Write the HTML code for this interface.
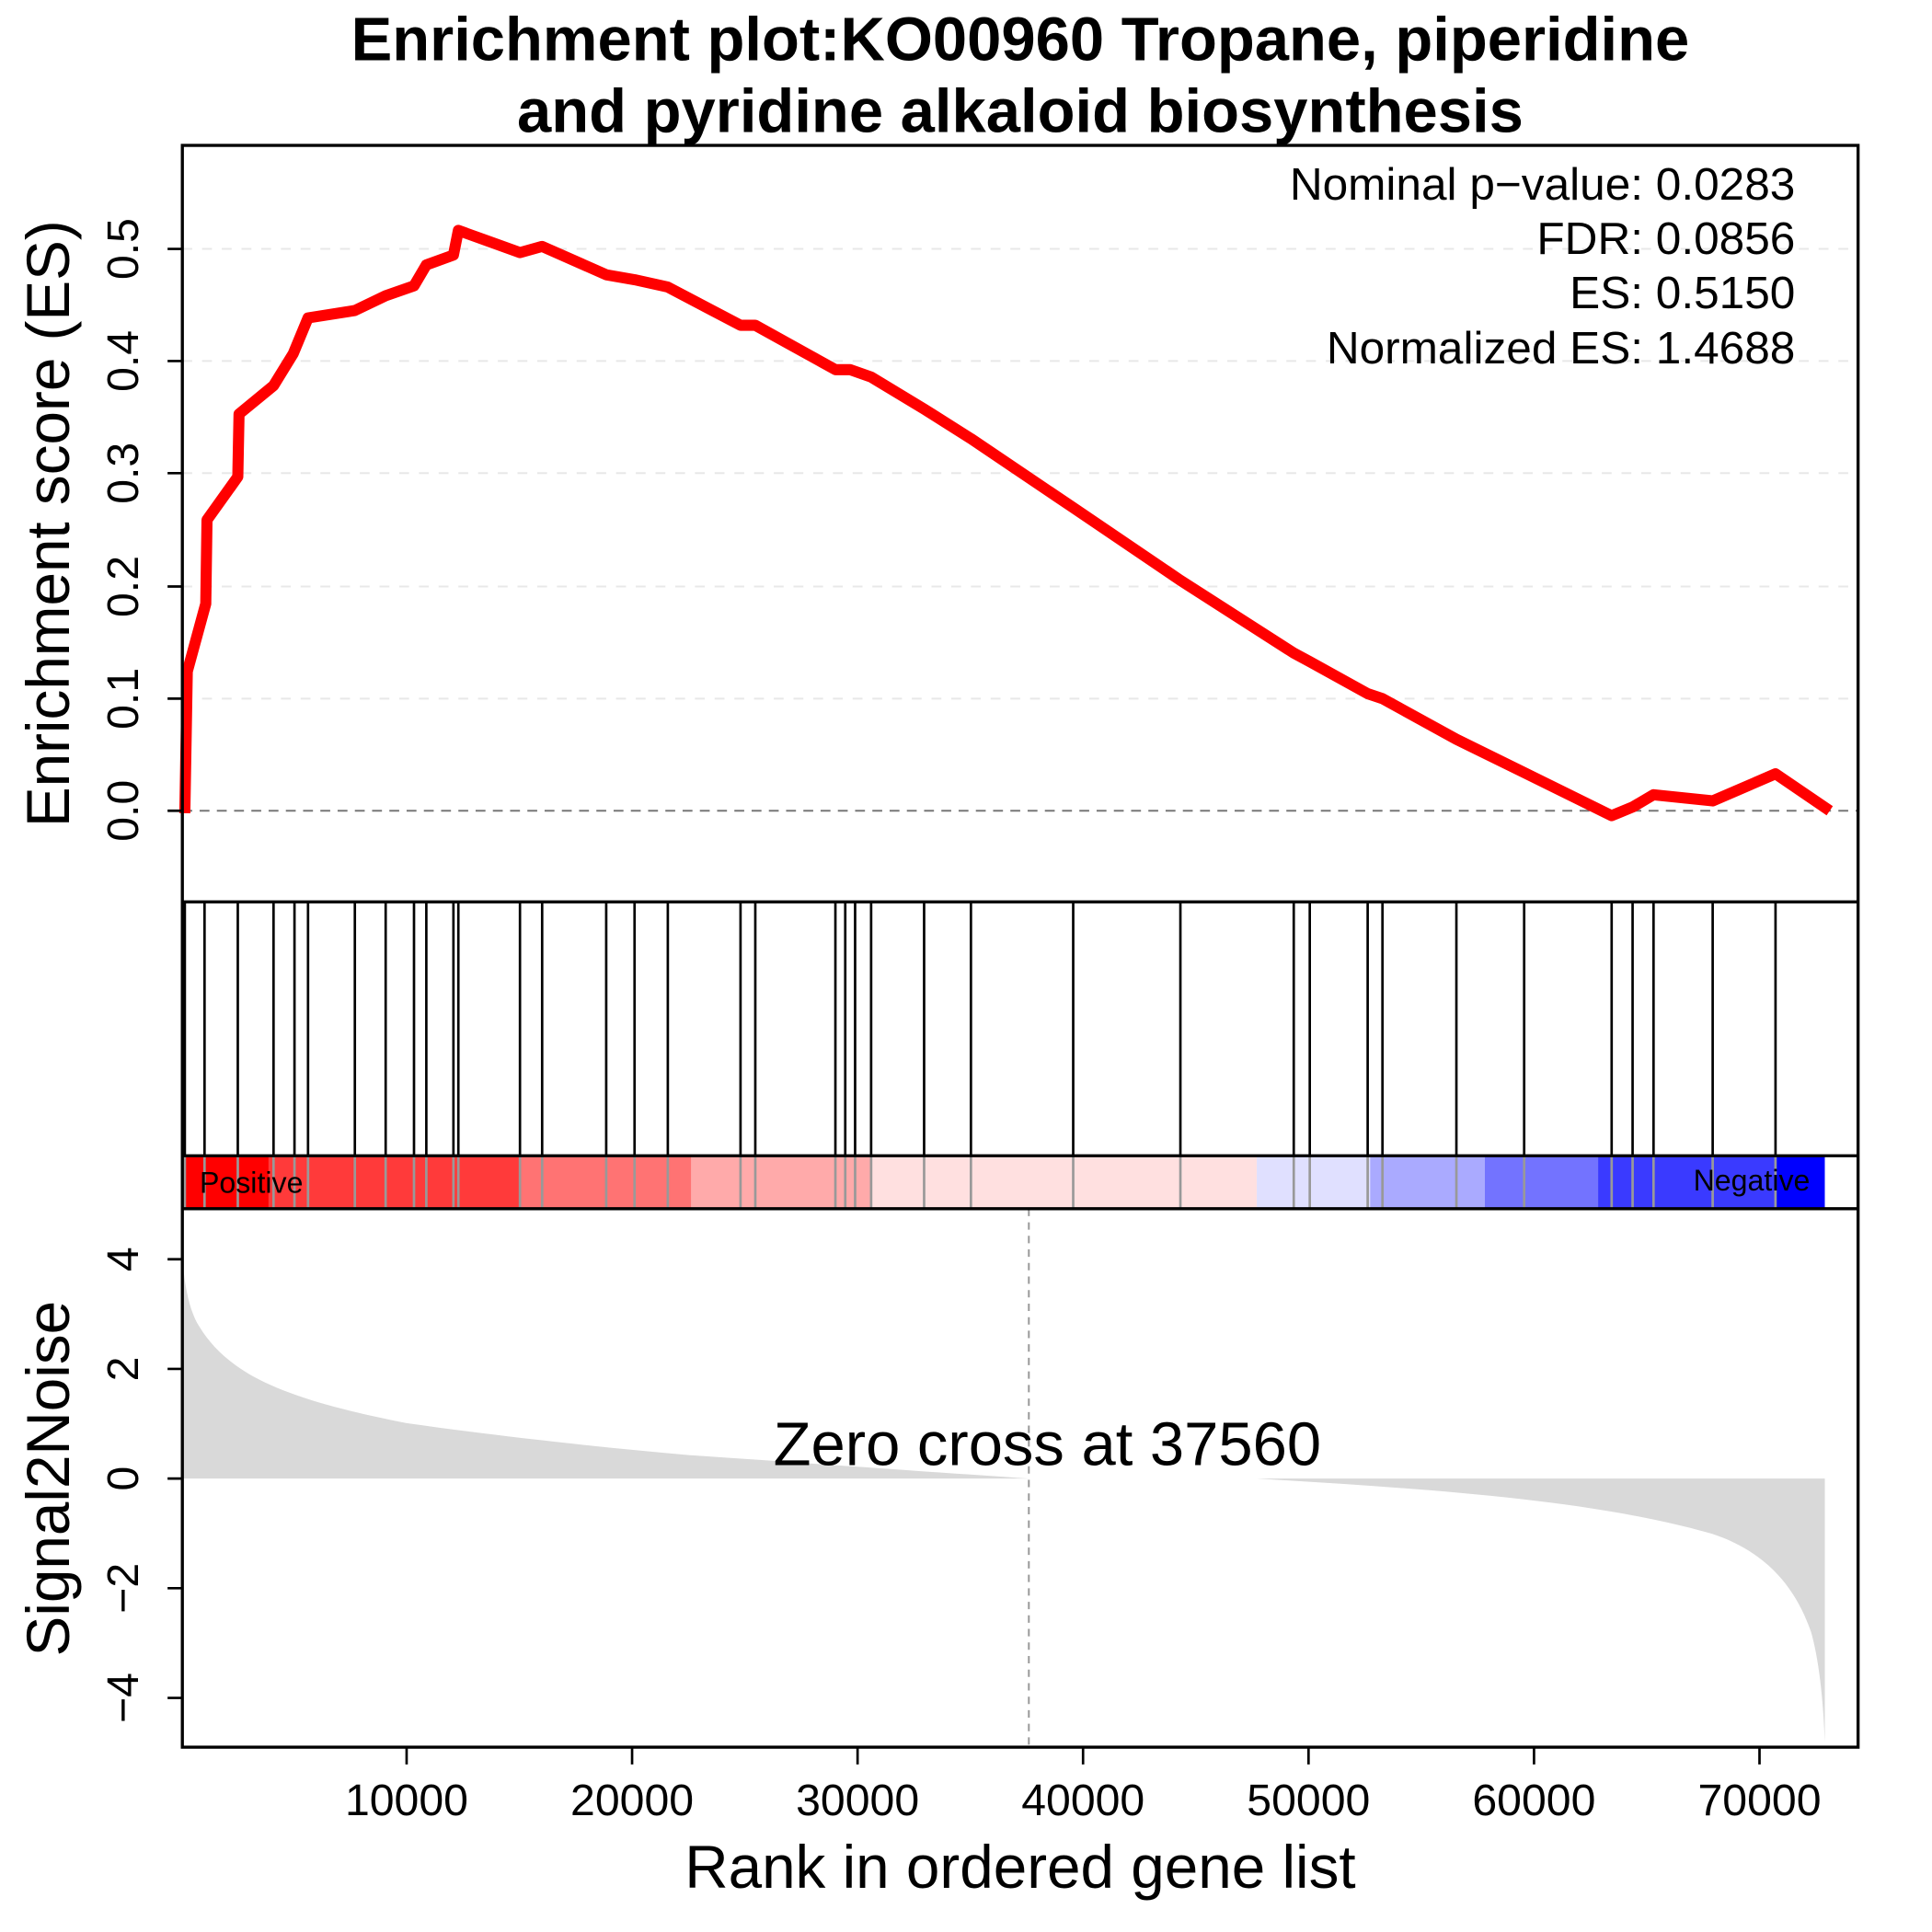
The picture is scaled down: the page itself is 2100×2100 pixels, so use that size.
<!DOCTYPE html>
<html><head><meta charset="utf-8"><style>html,body{margin:0;padding:0;background:#fff}svg{display:block}</style></head>
<body>
<svg xmlns="http://www.w3.org/2000/svg" width="2100" height="2100" viewBox="0 0 1568 1568" font-family="Liberation Sans, sans-serif">
<rect width="1568" height="1568" fill="#fff"/>
<text x="828" y="49" text-anchor="middle" font-size="50" font-weight="bold">Enrichment plot:KO00960 Tropane, piperidine</text>
<text x="828" y="107" text-anchor="middle" font-size="50" font-weight="bold">and pyridine alkaloid biosynthesis</text>
<g stroke="#e8e8e8" stroke-width="1.5" stroke-dasharray="8,8">
<line x1="148" x2="1508" y1="202" y2="202"/><line x1="148" x2="1508" y1="293" y2="293"/><line x1="148" x2="1508" y1="384" y2="384"/><line x1="148" x2="1508" y1="476" y2="476"/><line x1="148" x2="1508" y1="567" y2="567"/>
</g>
<line x1="148" x2="1508" y1="658" y2="658" stroke="#777" stroke-width="1.5" stroke-dasharray="8,6"/>
<polyline fill="none" stroke="#ff0000" stroke-width="9" stroke-linejoin="round" points="150,660 152,545 167,490 168,422 193,387 194,336 222,313 238,287 250,258 288,252 313,240 336,232 346,215 368,207 372,187 422,205 440,200 492,223 515,227 542,233 601,264 613,264 678,300 690,300 707,306 750,332 788,356 871,412 958,471 1050,530 1063,537 1110,563 1122,567 1182,600 1237,627 1308,662 1325,655 1342,645 1390,650 1441,628 1485,658"/>
<g font-size="37" text-anchor="end">
<text x="1457" y="162">Nominal p−value: 0.0283</text>
<text x="1457" y="206">FDR: 0.0856</text>
<text x="1457" y="250">ES: 0.5150</text>
<text x="1457" y="295">Normalized ES: 1.4688</text>
</g>
<g stroke="#000" stroke-width="2">
<line x1="136" x2="148" y1="658" y2="658"/><line x1="136" x2="148" y1="567" y2="567"/><line x1="136" x2="148" y1="476" y2="476"/><line x1="136" x2="148" y1="384" y2="384"/><line x1="136" x2="148" y1="293" y2="293"/><line x1="136" x2="148" y1="202" y2="202"/>
</g>
<g font-size="36" text-anchor="middle">
<text transform="translate(112,658) rotate(-90)">0.0</text>
<text transform="translate(112,567) rotate(-90)">0.1</text>
<text transform="translate(112,476) rotate(-90)">0.2</text>
<text transform="translate(112,384) rotate(-90)">0.3</text>
<text transform="translate(112,293) rotate(-90)">0.4</text>
<text transform="translate(112,202) rotate(-90)">0.5</text>
</g>
<text transform="translate(56,425) rotate(-90)" font-size="49" text-anchor="middle">Enrichment score (ES)</text>
<g>
<rect x="148" y="938" width="70" height="43" fill="#ff0000"/>
<rect x="218" y="938" width="204" height="43" fill="#ff3a3a"/>
<rect x="422" y="938" width="139" height="43" fill="#ff7373"/>
<rect x="561" y="938" width="147" height="43" fill="#ffaaaa"/>
<rect x="708" y="938" width="312" height="43" fill="#ffe0e0"/>
<rect x="1020" y="938" width="92" height="43" fill="#e0e0ff"/>
<rect x="1112" y="938" width="93" height="43" fill="#aaaaff"/>
<rect x="1205" y="938" width="92" height="43" fill="#7373ff"/>
<rect x="1297" y="938" width="144" height="43" fill="#3a3aff"/>
<rect x="1441" y="938" width="40" height="43" fill="#0000ff"/>
</g>
<g stroke="#999" stroke-width="2">
<path d="M150 938V981M166 938V981M193 938V981M222 938V981M239 938V981M250 938V981M288 938V981M313 938V981M336 938V981M346 938V981M368 938V981M372 938V981M422 938V981M440 938V981M492 938V981M515 938V981M542 938V981M601 938V981M613 938V981M678 938V981M686 938V981M694 938V981M707 938V981M750 938V981M788 938V981M871 938V981M958 938V981M1050 938V981M1063 938V981M1110 938V981M1122 938V981M1182 938V981M1237 938V981M1308 938V981M1325 938V981M1342 938V981M1390 938V981M1441 938V981"/>
</g>
<text x="162" y="968" font-size="24">Positive</text>
<text x="1469" y="966" font-size="24" text-anchor="end">Negative</text>
<g stroke="#000" stroke-width="2">
<path d="M150 732V938M166 732V938M193 732V938M222 732V938M239 732V938M250 732V938M288 732V938M313 732V938M336 732V938M346 732V938M368 732V938M372 732V938M422 732V938M440 732V938M492 732V938M515 732V938M542 732V938M601 732V938M613 732V938M678 732V938M686 732V938M694 732V938M707 732V938M750 732V938M788 732V938M871 732V938M958 732V938M1050 732V938M1063 732V938M1110 732V938M1122 732V938M1182 732V938M1237 732V938M1308 732V938M1325 732V938M1342 732V938M1390 732V938M1441 732V938"/>
</g>
<path fill="#d9d9d9" d="M148,1200 L148,1022 C150,1045 154,1065 162,1077 C173,1095 190,1110 215,1122 C245,1136 280,1145 330,1155 C400,1165 480,1174 560,1181 C650,1187 730,1193 835,1200 Z"/>
<path fill="#d9d9d9" d="M1020,1200 C1150,1208 1290,1216 1390,1245 C1435,1260 1458,1290 1470,1325 C1477,1350 1480,1385 1481,1414 L1481,1200 Z"/>
<line x1="835" x2="835" y1="981" y2="1418" stroke="#999" stroke-width="1.5" stroke-dasharray="6,5"/>
<text x="850" y="1189" font-size="50" text-anchor="middle">Zero cross at 37560</text>
<g stroke="#000" stroke-width="2">
<line x1="136" x2="148" y1="1022" y2="1022"/><line x1="136" x2="148" y1="1111" y2="1111"/><line x1="136" x2="148" y1="1200" y2="1200"/><line x1="136" x2="148" y1="1289" y2="1289"/><line x1="136" x2="148" y1="1378" y2="1378"/>
<line y1="1418" y2="1432" x1="330" x2="330"/><line y1="1418" y2="1432" x1="513" x2="513"/><line y1="1418" y2="1432" x1="696" x2="696"/><line y1="1418" y2="1432" x1="879" x2="879"/><line y1="1418" y2="1432" x1="1062" x2="1062"/><line y1="1418" y2="1432" x1="1245" x2="1245"/><line y1="1418" y2="1432" x1="1428" x2="1428"/>
</g>
<g font-size="36" text-anchor="middle">
<text transform="translate(112,1022) rotate(-90)">4</text>
<text transform="translate(112,1111) rotate(-90)">2</text>
<text transform="translate(112,1200) rotate(-90)">0</text>
<text transform="translate(112,1289) rotate(-90)">−2</text>
<text transform="translate(112,1378) rotate(-90)">−4</text>
<text x="330" y="1473">10000</text><text x="513" y="1473">20000</text><text x="696" y="1473">30000</text><text x="879" y="1473">40000</text><text x="1062" y="1473">50000</text><text x="1245" y="1473">60000</text><text x="1428" y="1473">70000</text>
</g>
<text transform="translate(56,1200) rotate(-90)" font-size="49" text-anchor="middle">Signal2Noise</text>
<text x="828" y="1532" font-size="49" text-anchor="middle">Rank in ordered gene list</text>
<g fill="none" stroke="#000" stroke-width="2.5">
<rect x="148" y="118" width="1360" height="1300"/>
<line x1="148" x2="1508" y1="732" y2="732"/>
<line x1="148" x2="1508" y1="938" y2="938"/>
<line x1="148" x2="1508" y1="981" y2="981"/>
</g>
</svg>
</body></html>
